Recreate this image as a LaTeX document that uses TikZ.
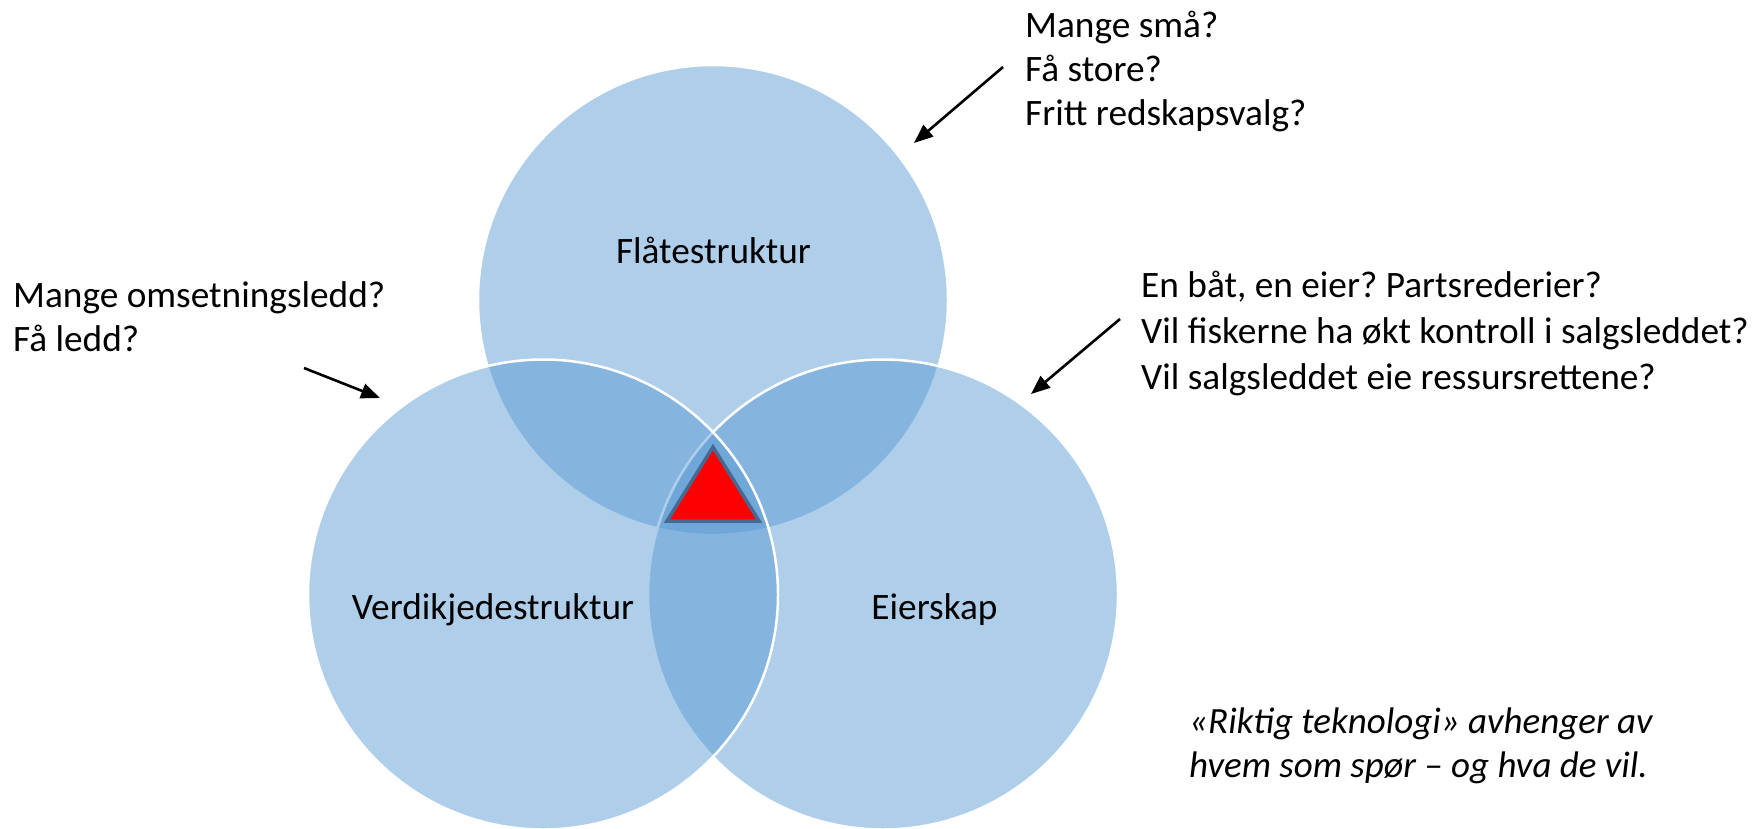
\documentclass[tikz,border=0pt]{standalone}
\usepackage{fontspec}
\setmainfont{Carlito}
\frenchspacing
\usetikzlibrary{arrows.meta}
\definecolor{vennblue}{RGB}{87,152,211}
\definecolor{triedge}{RGB}{70,105,145}
\tikzset{
  venn/.style={circle, minimum size=470pt, inner sep=0pt, fill=vennblue, fill opacity=0.475, draw=white, draw opacity=1, line width=2.5pt},
  lbl/.style={inner sep=0pt, font=\fontsize{37.3}{44}\selectfont, text=black},
  qtext/.style={inner sep=0pt, align=left, anchor=base west, font=\fontsize{37.3}{44}\selectfont, text=black},
  pointer/.style={line width=2.6pt, -{Triangle[length=19pt,width=15pt]}}
}
\begin{document}
\begin{tikzpicture}[x=1pt,y=-1pt]
\useasboundingbox (0,0) rectangle (1753,828);
% circles: top, right, left (left drawn last)
\node[venn] (ctop) at (713,300) {};
\node[venn] (cright) at (883,594.5) {};
\node[venn] (cleft) at (543,594.5) {};
% triangle
\coordinate (ta) at (713,447);
\coordinate (tl) at (667,521);
\coordinate (tr) at (759,521);
\draw[fill=red, draw=triedge, line width=3.5pt, line join=miter] (ta) -- (tl) -- (tr) -- cycle;
% circle labels
\node[lbl, anchor=base] (ltop) at (713.5,263) {Flåtestruktur};
\node[lbl, anchor=base] (lleft) at (493,619) {Verdikjedestruktur};
\node[lbl, anchor=base] (lright) at (934.5,619) {Eierskap};
% question texts (anchor = baseline of last line)
\node[qtext] (qtop) at (1025,125) {Mange små?\\Få store?\\Fritt redskapsvalg?};
\node[qtext, font=\fontsize{37.3}{46}\selectfont] (qright) at (1141,389) {En båt, en eier? Partsrederier?\\Vil fiskerne ha økt kontroll i salgsleddet?\\Vil salgsleddet eie ressursrettene?};
\node[qtext] (qleft) at (13,351) {Mange omsetningsledd?\\Få ledd?};
\node[qtext, font=\fontsize{37}{44}\selectfont\itshape] (note) at (1189,777) {«Riktig teknologi» avhenger av\\hvem som spør – og hva de vil.};
% arrows
\coordinate (atop0) at (1003,67);
\coordinate (atop1) at (914,143);
\coordinate (aright0) at (1120,319);
\coordinate (aright1) at (1031,394);
\coordinate (aleft0) at (304,368);
\coordinate (aleft1) at (380,398);
\draw[pointer] (atop0) -- (atop1);
\draw[pointer] (aright0) -- (aright1);
\draw[pointer] (aleft0) -- (aleft1);
\end{tikzpicture}
\end{document}
